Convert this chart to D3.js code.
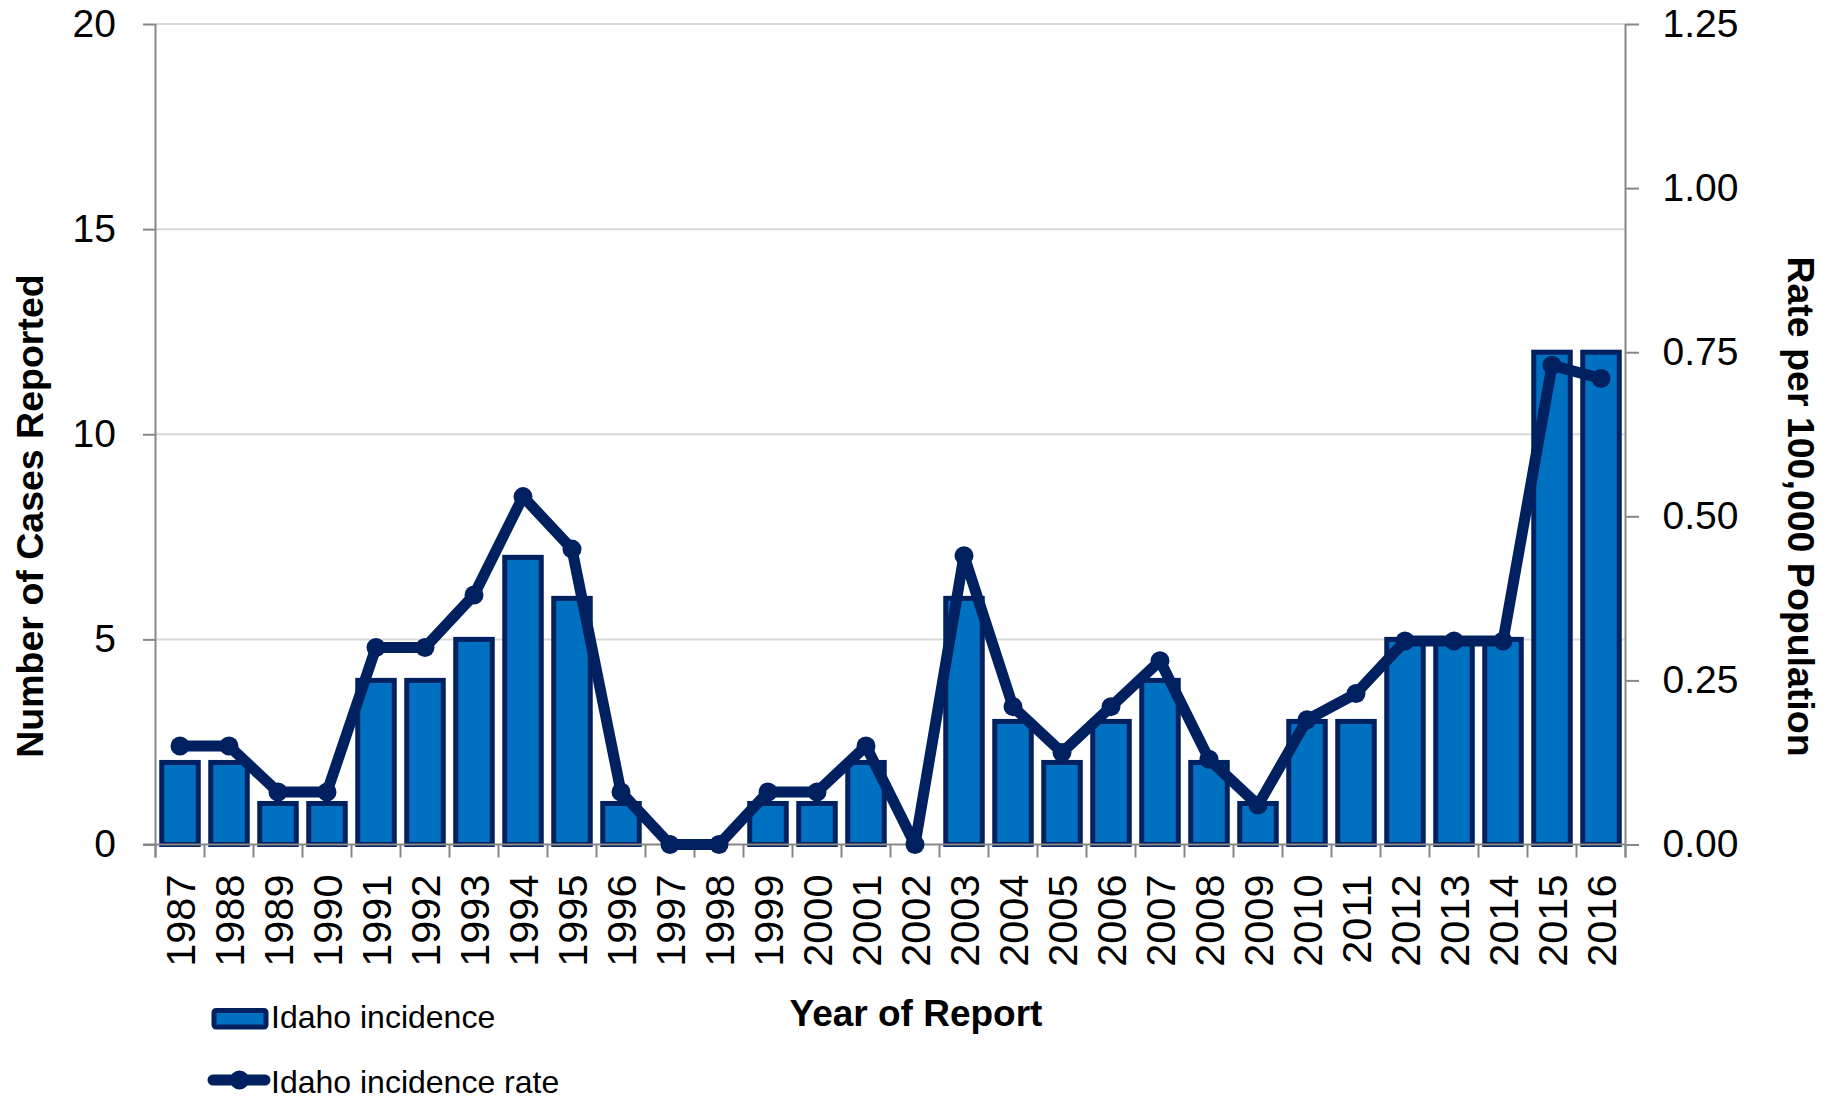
<!DOCTYPE html>
<html>
<head>
<meta charset="utf-8">
<script src="https://cdn.jsdelivr.net/npm/d3@7"></script>
<style>
  html, body { margin: 0; padding: 0; background: #fff; }
  svg { display: block; }
  text { font-family: "Liberation Sans", Arial, sans-serif; fill: #000; }
</style>
</head>
<body>
<svg id="chart" width="1833" height="1096"></svg>
<script>
const years = ["1987","1988","1989","1990","1991","1992","1993","1994","1995","1996",
               "1997","1998","1999","2000","2001","2002","2003","2004","2005","2006",
               "2007","2008","2009","2010","2011","2012","2013","2014","2015","2016"];
const cases = [2,2,1,1,4,4,5,7,6,1, 0,0,1,1,2,0,6,3,2,3, 4,2,1,3,3,5,5,5,12,12];
const rates = [0.15,0.15,0.08,0.08,0.30,0.30,0.38,0.53,0.45,0.08,
               0.00,0.00,0.08,0.08,0.15,0.00,0.44,0.21,0.14,0.21,
               0.28,0.13,0.06,0.19,0.23,0.31,0.31,0.31,0.73,0.71];
const leftTicks = [0,5,10,15,20];
const rightTicks = [0,0.25,0.5,0.75,1.0,1.25];
const seriesNames = ["Idaho incidence", "Idaho incidence rate"];
const xTitle = "Year of Report";
const yLeftTitle = "Number of Cases Reported";
const yRightTitle = "Rate per 100,000 Population";

const svg = d3.select("#chart");
const plot = {left: 155.5, right: 1625.5, top: 24, bottom: 844.5};
const barFill = "#0070C0", navy = "#002060", axisCol = "#878787", gridCol = "#d9d9d9";

const x = d3.scaleBand().domain(years).range([plot.left, plot.right]).padding(0);
const yL = d3.scaleLinear().domain([0,20]).range([plot.bottom, plot.top]);
const yR = d3.scaleLinear().domain([0,1.25]).range([plot.bottom, plot.top]);

// gridlines
svg.append("g").selectAll("line").data(leftTicks.filter(d => d > 0)).join("line")
  .attr("x1", plot.left).attr("x2", plot.right)
  .attr("y1", d => yL(d)).attr("y2", d => yL(d))
  .attr("stroke", gridCol).attr("stroke-width", 2);

// left axis
const gL = svg.append("g").attr("transform", `translate(${plot.left},0)`)
  .call(d3.axisLeft(yL).tickValues(leftTicks).tickSize(12.5).tickPadding(0).tickFormat(d3.format("d")));
gL.select(".domain").remove();
gL.selectAll(".tick line").attr("stroke", axisCol).attr("stroke-width", 2);
gL.selectAll(".tick text").attr("x", -39.5).attr("dy", "0.31em")
  .style("font-size", "39px").style("font-family", "'Liberation Sans', Arial, sans-serif").attr("fill", "#000");
svg.append("line").attr("x1", plot.left).attr("x2", plot.left)
  .attr("y1", plot.top).attr("y2", plot.bottom + 13)
  .attr("stroke", axisCol).attr("stroke-width", 2);

// right axis
const gR = svg.append("g").attr("transform", `translate(${plot.right},0)`)
  .call(d3.axisRight(yR).tickValues(rightTicks).tickSize(13.5).tickPadding(0).tickFormat(d3.format(".2f")));
gR.select(".domain").remove();
gR.selectAll(".tick line").attr("stroke", axisCol).attr("stroke-width", 2);
gR.selectAll(".tick text").attr("x", 37).attr("dy", "0.31em")
  .style("font-size", "39px").style("font-family", "'Liberation Sans', Arial, sans-serif").attr("fill", "#000");
svg.append("line").attr("x1", plot.right).attr("x2", plot.right)
  .attr("y1", plot.top).attr("y2", plot.bottom + 13)
  .attr("stroke", axisCol).attr("stroke-width", 2);

// bottom axis: ticks at band boundaries
const bounds = years.map(d => x(d)).concat([x(years[years.length-1]) + x.bandwidth()]);
svg.append("g").selectAll("line").data(bounds).join("line")
  .attr("x1", d => d).attr("x2", d => d)
  .attr("y1", plot.bottom).attr("y2", plot.bottom + 13)
  .attr("stroke", axisCol).attr("stroke-width", 2);

// bars
const barW = x.bandwidth() * 0.745;
svg.append("g").selectAll("rect").data(years).join("rect")
  .attr("x", d => x(d) + (x.bandwidth() - barW) / 2)
  .attr("width", barW)
  .attr("y", (d,i) => yL(cases[i]))
  .attr("height", (d,i) => Math.max(0, plot.bottom - yL(cases[i])))
  .attr("fill", barFill).attr("stroke", navy).attr("stroke-width", 5)
  .style("display", (d,i) => cases[i] > 0 ? null : "none");

svg.append("line").attr("x1", plot.left - 12.5).attr("x2", plot.right)
  .attr("y1", plot.bottom).attr("y2", plot.bottom)
  .attr("stroke", axisCol).attr("stroke-width", 2);

// x labels
svg.append("g").selectAll("text").data(years).join("text")
  .attr("transform", d => `translate(${x(d) + x.bandwidth()/2 + 15},${plot.bottom + 30}) rotate(-90)`)
  .attr("text-anchor", "end")
  .style("font-size", "41.5px")
  .text(d => d);

// rate line
const line = d3.line().x((d,i) => x(years[i]) + x.bandwidth()/2).y(d => yR(d));
svg.append("path").datum(rates).attr("d", line)
  .attr("fill", "none").attr("stroke", navy).attr("stroke-width", 11)
  .attr("stroke-linejoin", "round").attr("stroke-linecap", "round");
svg.append("g").selectAll("circle").data(rates).join("circle")
  .attr("cx", (d,i) => x(years[i]) + x.bandwidth()/2)
  .attr("cy", d => yR(d)).attr("r", 9.5).attr("fill", navy);

// titles
svg.append("text").attr("x", 916).attr("y", 1026).attr("text-anchor", "middle")
  .style("font-size", "37px").style("font-weight", "bold").text(xTitle);
svg.append("text").attr("transform", "translate(43,516) rotate(-90)").attr("text-anchor", "middle")
  .style("font-size", "37.5px").style("font-weight", "bold").text(yLeftTitle);
svg.append("text").attr("transform", "translate(1788,506.5) rotate(90)").attr("text-anchor", "middle")
  .style("font-size", "37.5px").style("font-weight", "bold").text(yRightTitle);

// legend
const lg = svg.append("g");
lg.append("rect").attr("x", 214).attr("y", 1010.5).attr("width", 52).attr("height", 16.5)
  .attr("rx", 2).attr("fill", barFill).attr("stroke", navy).attr("stroke-width", 5);
lg.append("text").attr("x", 271).attr("y", 1028).style("font-size", "32px").text(seriesNames[0]);
lg.append("line").attr("x1", 213).attr("x2", 265).attr("y1", 1080).attr("y2", 1080)
  .attr("stroke", navy).attr("stroke-width", 11).attr("stroke-linecap", "round");
lg.append("circle").attr("cx", 239.5).attr("cy", 1080).attr("r", 9.5).attr("fill", navy);
lg.append("text").attr("x", 271).attr("y", 1093).style("font-size", "32px").text(seriesNames[1]);
</script>
</body>
</html>
